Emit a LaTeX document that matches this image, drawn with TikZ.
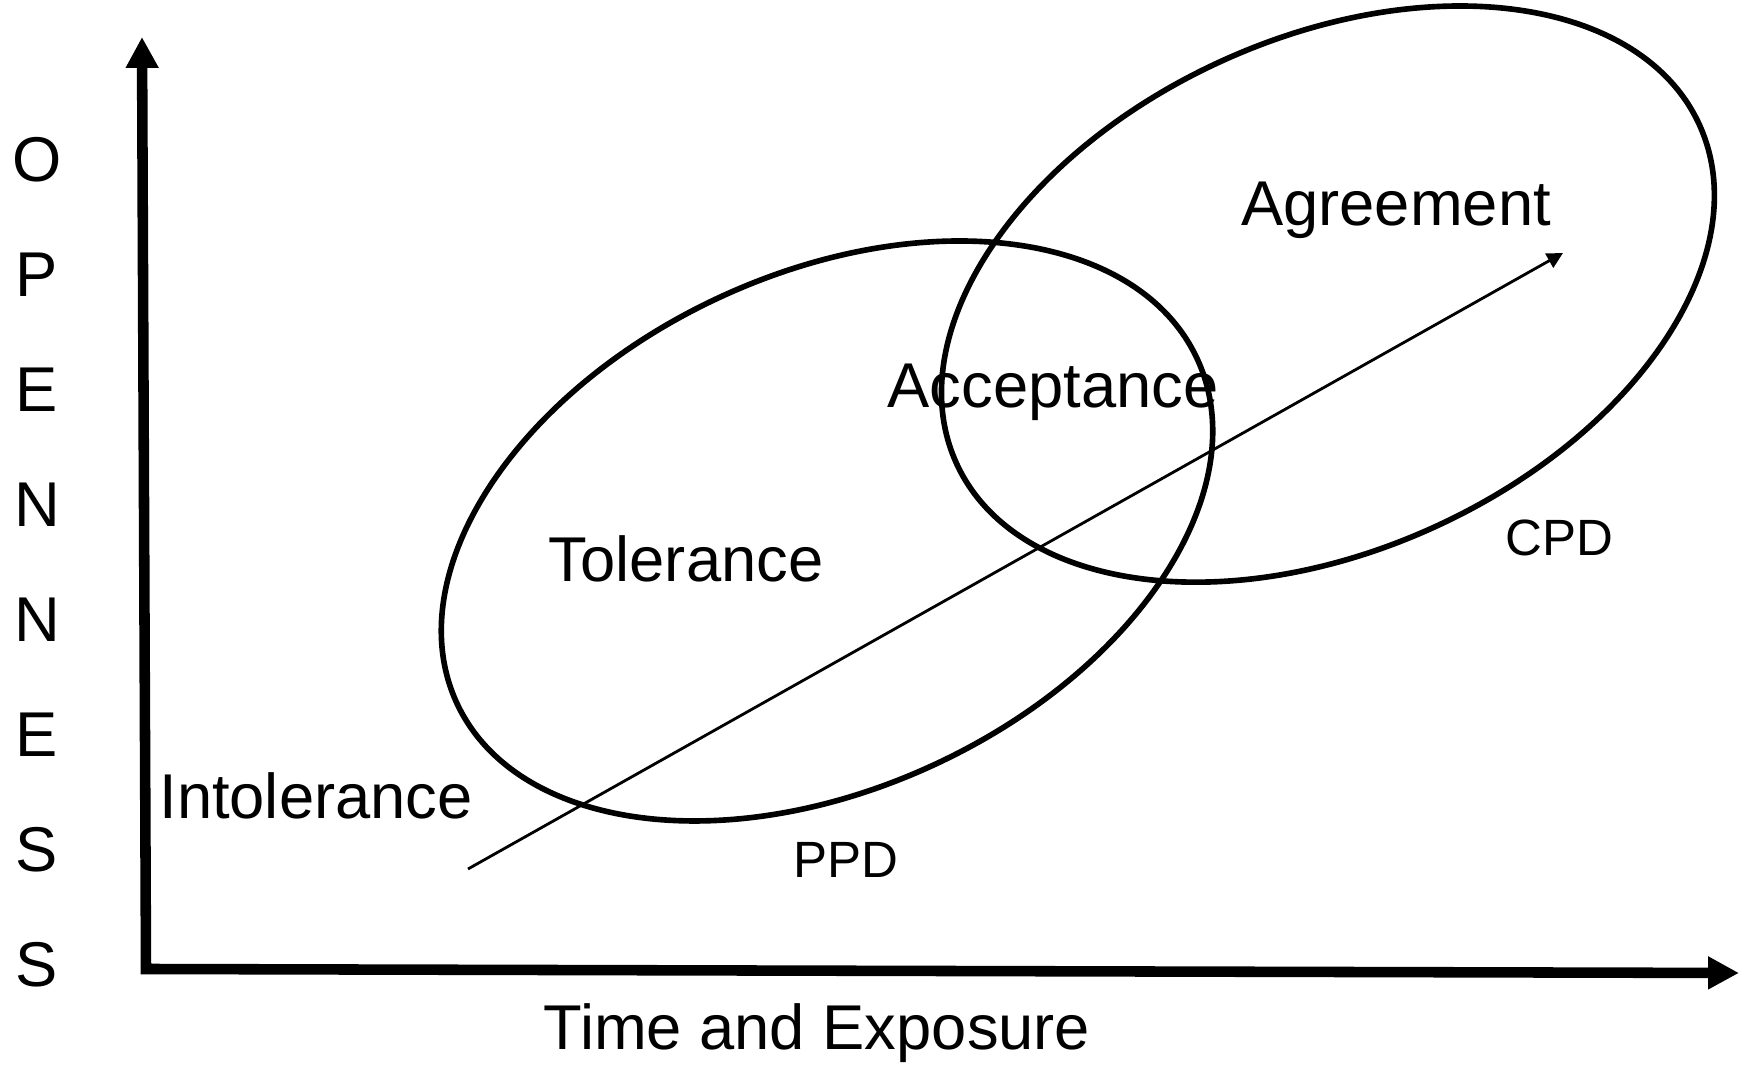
\documentclass[tikz,border=0pt]{standalone}
\usepackage{fontspec}
\setmainfont{Liberation Sans}
\usetikzlibrary{arrows.meta,positioning}

\begin{document}
\begin{tikzpicture}[x=0.01cm, y=0.01cm,
        big/.style={font=\fontsize{18}{21}\selectfont, inner sep=0pt, anchor=base},
        small/.style={font=\fontsize{14.5}{17}\selectfont, inner sep=0pt, anchor=base},
        axis/.style={line width=3pt, {Triangle[length=8.8pt,width=8.8pt]}-{Triangle[length=8.8pt,width=8.8pt]}},
        region/.style={line width=1.6pt},
        trend/.style={line width=0.8pt, -{Triangle[length=4.5pt,width=4.5pt]}}
    ]
        \useasboundingbox (0,0) rectangle (1748,1067);

        % axes
        \coordinate (origin) at (146,98);
        \coordinate (ytip) at (142,1030);
        \coordinate (xtip) at (1739,94);
        \draw [axis] (ytip) -- (origin) -- (xtip);

        % the two regions
        \coordinate (ppdc) at (827,536);
        \coordinate (cpdc) at (1328,773);
        \draw [region, rotate around={25:(ppdc)}] (ppdc) ellipse [x radius=4.08cm, y radius=2.57cm];
        \draw [region, rotate around={24.5:(cpdc)}] (cpdc) ellipse [x radius=4.08cm, y radius=2.56cm];

        % trend arrow
        \coordinate (start) at (468,198);
        \coordinate (finish) at (1563,814);
        \draw [trend] (start) -- (finish);

        % labels
        \node [big] (agree) at (1396,841) {Agreement};
        \node [big] (accept) at (1053,659) {Acceptance};
        \node [big] (toler) at (686,485) {Tolerance};
        \node [big] (intol) at (316,248) {Intolerance};
        \node [small] (ppd) at (846,189) {PPD};
        \node [small] (cpd) at (1559,511) {CPD};
        \node [big] (time) at (817,17) {Time and Exposure};

        \foreach \ch [count=\i from 0] in {O,P,E,N,N,E,S,S}
            \node [big] (open\i) at (37,885-115*\i) {\ch};

    \end{tikzpicture}
\end{document}
